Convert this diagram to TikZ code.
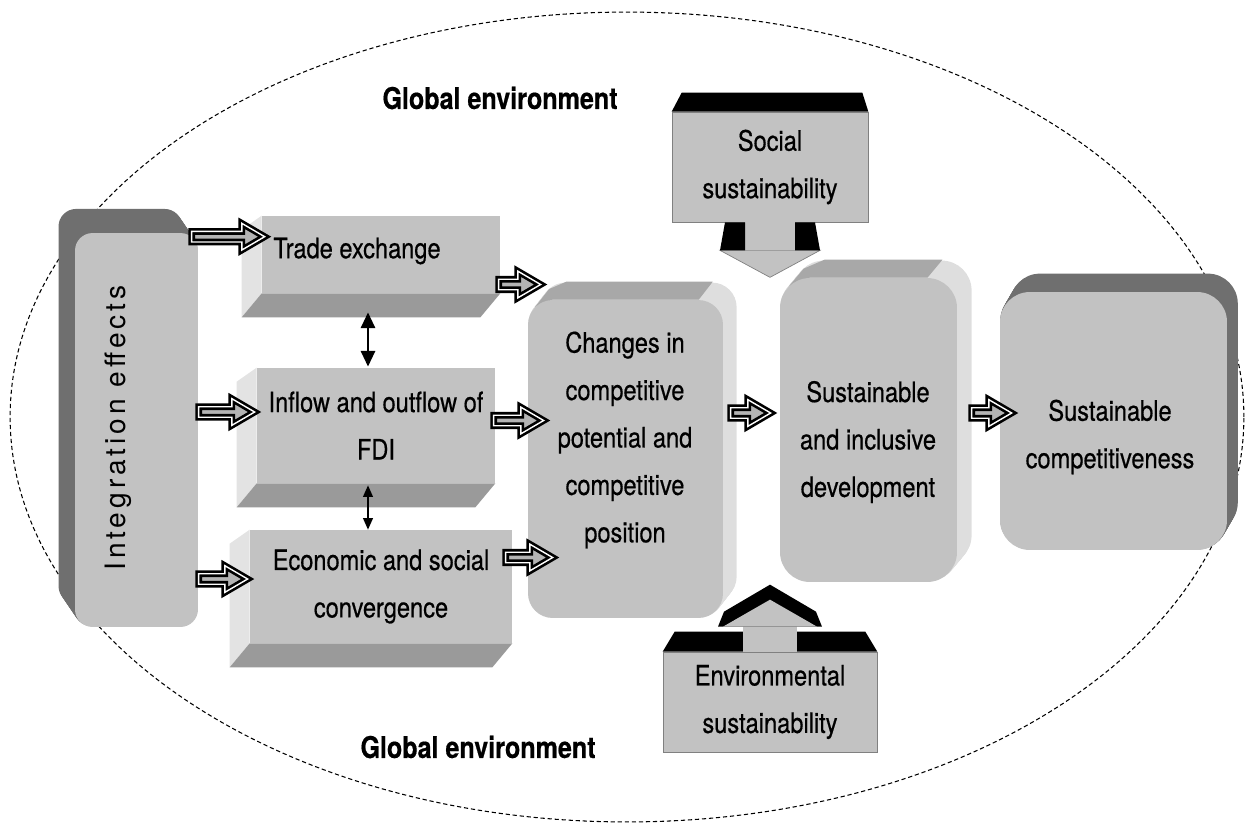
\documentclass[tikz,border=0pt]{standalone}
\usepackage{fontspec}
\setmainfont{TeX Gyre Heros}[FakeStretch=0.84, FakeBold=0.5]
\newfontfamily\spacedfont{TeX Gyre Heros}[LetterSpace=14]
\usetikzlibrary{arrows.meta,calc,backgrounds}

\definecolor{face}{HTML}{C2C2C2}
\definecolor{lightside}{HTML}{E3E3E3}
\definecolor{darkside}{HTML}{9A9A9A}
\definecolor{darkext}{HTML}{6F6F6F}
\definecolor{topext}{HTML}{A8A8A8}
\definecolor{sideext}{HTML}{DEDEDE}
\definecolor{arrowfill}{HTML}{B4B4B4}

\begin{document}
\begin{tikzpicture}[x=0.02cm, y=-0.02cm,
	txt/.style={font=\fontsize{16}{27}\selectfont, align=center, inner sep=0pt},
	envtext/.style={font=\fontsize{17}{20}\selectfont\bfseries, inner sep=0pt},
	facebox/.style={fill=face, inner sep=0pt},
	link/.style={line width=1.6pt, >={Triangle[length=9pt,width=8pt]}},
	thinlink/.style={line width=0.9pt, >={Triangle[length=6.5pt,width=5.5pt]}},
	fat/.style={draw=black, fill=arrowfill, line width=1.5pt, double=white, double distance=0.8pt, line join=miter,
		to path={let \p1=(\tikztostart), \p2=(\tikztotarget) in
			(\x1+1.9pt,\y1+3pt) -- (\x2-17pt,\y1+3pt) -- (\x2-17pt,\y1+7.6pt) -- (\x2-4pt,\y1)
			-- (\x2-17pt,\y1-7.6pt) -- (\x2-17pt,\y1-3pt) -- (\x1+1.9pt,\y1-3pt) -- cycle}}]

	\useasboundingbox (0,0) rectangle (1250,825);

	% Global environment
	\begin{scope}[on background layer]
		\draw[line width=0.6pt, dash pattern=on 2.4pt off 1.6pt] (627,417) ellipse [x radius=12.34cm, y radius=8.1cm];
	\end{scope}
	\node[envtext] (glob-top) at (500,98) {Global environment};
	\node[envtext] (glob-bot) at (478,747) {Global environment};

	% Integration effects
	\node[facebox, rounded corners=10pt, minimum width=2.46cm, minimum height=7.88cm] (integ) at (136.5,430) {};
	\node[rotate=90, inner sep=0pt, font=\fontsize{16}{18}\spacedfont] (integ-t) at (118,428) {Integration effects};
	\begin{scope}[on background layer]
		\foreach \t in {0.05,0.1,...,1.0}
			\fill[darkext, rounded corners=10pt] ($(integ.south west)+\t*(-17,-25)$) rectangle ($(integ.north east)+\t*(-17,-25)$);
	\end{scope}

	% Channels
	\node[facebox, minimum width=4.76cm, minimum height=1.54cm] (trade) at (381,254.5) {};
	\node[txt] (trade-t) at (357,251) {Trade exchange};
	\node[facebox, txt, minimum width=4.76cm, minimum height=2.30cm] (fdi) at (376,425.5) {Inflow and outflow of\\FDI};
	\node[facebox, txt, minimum width=5.24cm, minimum height=2.26cm] (econ) at (381,586.5) {Economic and social\\convergence};
	\foreach \b in {trade,fdi,econ} {
		\fill[lightside] (\b.north west) -- ++(-20,14) -- ($(\b.south west)+(-20,24)$) -- (\b.south west) -- cycle;
		\fill[darkside] (\b.south west) -- ++(-20,24) -- ($(\b.south east)+(-20,24)$) -- (\b.south east) -- cycle;
	}

	% Changes in competitive potential
	\node[facebox, rounded corners=14pt, minimum width=3.90cm, minimum height=6.36cm] (changes) at (625.5,459) {};
	\node[txt] (changes-t) at (625,440) {Changes in\\competitive\\potential and\\competitive\\position};
	\begin{scope}[on background layer]
		\foreach \t in {0.05,0.1,...,1.0}
			\fill[sideext, rounded corners=14pt] ($(changes.south west)+\t*(14,-18)$) rectangle ($(changes.north east)+\t*(14,-18)$);
		\fill[topext] ($(changes.north west)+(4.2pt,-4.2pt)$) -- ++(14,-18) -- ($(changes.north west)+(14pt,0pt)+(14,-18)$)
			-- ($(changes.north east)+(-14pt,0pt)+(14,-18)$) -- ($(changes.north east)+(-14pt,0pt)$) -- ($(changes.north west)+(14pt,0pt)$) -- cycle;
	\end{scope}

	% Sustainable and inclusive development
	\node[facebox, rounded corners=17pt, minimum width=3.54cm, minimum height=6.08cm] (sdev) at (868.5,430) {};
	\node[txt] (sdev-t) at (868,442) {Sustainable\\and inclusive\\development};
	\begin{scope}[on background layer]
		\foreach \t in {0.05,0.1,...,1.0}
			\fill[sideext, rounded corners=17pt] ($(sdev.south west)+\t*(15,-18)$) rectangle ($(sdev.north east)+\t*(15,-18)$);
		\fill[topext] ($(sdev.north west)+(5.1pt,-5.1pt)$) -- ++(15,-18) -- ($(sdev.north west)+(17pt,0pt)+(15,-18)$)
			-- ($(sdev.north east)+(-17pt,0pt)+(15,-18)$) -- ($(sdev.north east)+(-17pt,0pt)$) -- ($(sdev.north west)+(17pt,0pt)$) -- cycle;
	\end{scope}

	% Sustainable competitiveness
	\node[facebox, rounded corners=17pt, minimum width=4.54cm, minimum height=5.16cm] (scomp) at (1113.5,421) {};
	\node[txt] (scomp-t) at (1110,437) {Sustainable\\competitiveness};
	\begin{scope}[on background layer]
		\foreach \t in {0.05,0.1,...,1.0}
			\fill[darkext, rounded corners=17pt] ($(scomp.south west)+\t*(11,-19)$) rectangle ($(scomp.north east)+\t*(11,-19)$);
	\end{scope}

	% Social sustainability
	\node[facebox, txt, draw=gray, thin, minimum width=3.92cm, minimum height=2.20cm] (social) at (770,167) {Social\\sustainability};
	\fill[black] (social.north west) -- ++(10,-19) -- ($(social.north east)+(-6,-19)$) -- (social.north east) -- cycle;
	\filldraw[fill=face, draw=gray] ($(social.south)+(-50,28)$) -- ($(social.south)+(50,28)$) -- ($(social.south)+(0,55)$) -- cycle;
	\fill[face] ($(social.south)+(-25,0)$) rectangle ($(social.south)+(25,28)$);
	\fill[black] ($(social.south)+(-50,28)$) -- ($(social.south)+(-45,0)$) -- ($(social.south)+(-25,0)$) -- ($(social.south)+(-25,28)$) -- cycle;
	\fill[black] ($(social.south)+(50,28)$) -- ($(social.south)+(45,0)$) -- ($(social.south)+(25,0)$) -- ($(social.south)+(25,28)$) -- cycle;

	% Environmental sustainability
	\node[facebox, txt, draw=gray, thin, minimum width=4.28cm, minimum height=2.00cm] (env) at (770,702) {Environmental\\sustainability};
	\fill[black] (env.north west) -- ++(12,-20) -- ($(env.north)+(-27,-20)$) -- ($(env.north)+(-27,0)$) -- cycle;
	\fill[black] (env.north east) -- ++(-12,-20) -- ($(env.north)+(27,-20)$) -- ($(env.north)+(27,0)$) -- cycle;
	\fill[face] ($(env.north)+(-27,0)$) rectangle ($(env.north)+(27,-26)$);
	\fill[black] ($(env.north)+(-52,-25)$) -- ($(env.north)+(-46,-40)$) -- ($(env.north)+(0,-67)$) -- ($(env.north)+(46,-40)$) -- ($(env.north)+(52,-25)$) -- cycle;
	\fill[face] ($(env.north)+(-47,-25)$) -- ($(env.north)+(0,-52)$) -- ($(env.north)+(47,-25)$) -- cycle;

	% Links between channels
	\draw[link] [<->] ($(trade.south)+(-13,19)$) -- ($(fdi.north)+(-8,-1)$);
	\draw[thinlink] [<->] ($(fdi.south)+(-8,2)$) -- ($(econ.north)+(-13,0)$);

	% Integration effects to channels
	\draw[fat] ($(integ.north east)+(-10,4)$) to ($(trade.west)+(10,0)$);
	\draw[fat] ($(integ.east)+(-3,-18)$) to ($(fdi.west)+(5,0)$);
	\draw[fat] ($(integ.east)+(-3,149)$) to ($(econ.west)+(5,0)$);

	% Channels to changes
	\draw[fat] ($(trade.east)+(-5,30)$) to ($(changes.west)+(20,0)$);
	\draw[fat] ($(fdi.east)+(-5,-5)$) to ($(changes.west)+(23,0)$);
	\draw[fat] ($(econ.east)+(-10,-29)$) to ($(changes.west)+(32,0)$);

	% Along the chain
	\draw[fat] ($(changes.east)+(4,-46)$) to ($(sdev.west)+(-2,0)$);
	\draw[fat] ($(sdev.east)+(11,-17)$) to ($(scomp.west)+(19,0)$);

\end{tikzpicture}
\end{document}
